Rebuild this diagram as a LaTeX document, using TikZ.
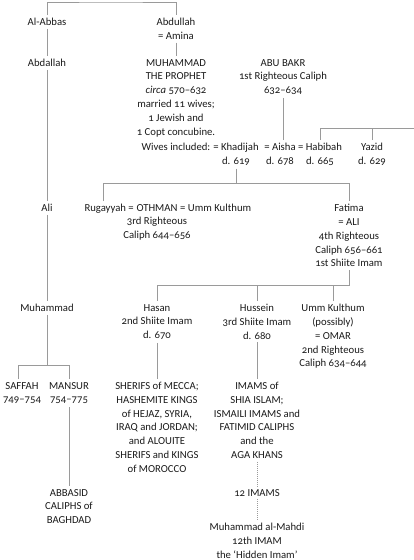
\documentclass[tikz,border=0pt]{standalone}
\usepackage{fontspec}
\setmainfont{Carlito}[Numbers=OldStyle]
\definecolor{ink}{HTML}{1A1A1A}
\definecolor{rulegray}{HTML}{9A9A9A}
\begin{document}
\begin{tikzpicture}[x=1pt,y=-1pt,
  lbl/.style={align=center, inner sep=3pt, anchor=north, font=\fontsize{10.7}{13.8}\selectfont, text=ink},
  link/.style={draw=rulegray, line width=0.8pt},
  dots/.style={draw=rulegray, line width=0.8pt, dash pattern=on 0.8pt off 1.2pt}]
\useasboundingbox (0,0) rectangle (414,560);
% nodes
\node[lbl] (alabbas)  at (47,15)  {Al-Abbas};
\node[lbl] (abdullah) at (176,15) {Abdullah\\= Amina};
\node[lbl] (abdallah) at (47,56)  {Abdallah};
\node[lbl] (muhammad) at (176,56) {MUHAMMAD\\THE PROPHET\\\textit{circa} 570–632\\married 11 wives;\\1 Jewish and\\1 Copt concubine.\\[1.5pt]Wives included:};
\node[lbl] (abubakr)  at (283,56) {ABU BAKR\\1st Righteous Caliph\\632–634};
\node[lbl] (khadijah) at (236,140) {= Khadijah\\d. 619};
\node[lbl] (aisha)    at (280,140) {= Aisha\\d. 678};
\node[lbl] (habibah)  at (320,140) {= Habibah\\d. 665};
\node[lbl] (yazid)    at (372,140) {Yazid\\d. 629};
\node[lbl] (ali)      at (47,201)  {Ali};
\node[lbl] (othman)   at (157,201) {OTHMAN\\3rd Righteous\\Caliph 644–656};
\node[lbl, anchor=north east] (rugayyah) at (137,201) {Rugayyah =};
\node[lbl, anchor=north west] (ummk)     at (177,201) {= Umm Kulthum};
\node[lbl] (fatima)   at (349,201) {Fatima\\= ALI\\4th Righteous\\Caliph 656–661\\1st Shiite Imam};
\node[lbl] (muhammadb) at (47,301) {Muhammad};
\node[lbl] (hasan)    at (157,301) {Hasan\\2nd Shiite Imam\\d. 670};
\node[lbl] (hussein)  at (257,301) {Hussein\\3rd Shiite Imam\\d. 680};
\node[lbl] (ummk2)    at (333,301) {Umm Kulthum\\(possibly)\\= OMAR\\2nd Righteous\\Caliph 634–644};
\node[lbl] (saffah)   at (22,379)  {SAFFAH\\749–754};
\node[lbl] (mansur)   at (69,379)  {MANSUR\\754–775};
\node[lbl] (sherifs)  at (157,379) {SHERIFS of MECCA;\\HASHEMITE KINGS\\of HEJAZ, SYRIA,\\IRAQ and JORDAN;\\and ALOUITE\\SHERIFS and KINGS\\of MOROCCO};
\node[lbl] (imams)    at (257,379) {IMAMS of\\SHIA ISLAM;\\ISMAILI IMAMS and\\FATIMID CALIPHS\\and the\\AGA KHANS};
\node[lbl] (abbasid)  at (69,486)  {ABBASID\\CALIPHS of\\BAGHDAD};
\node[lbl] (twelve)   at (257,486) {12 IMAMS};
\node[lbl] (mahdi)    at (257,520) {Muhammad al-Mahdi\\12th IMAM\\the ‘Hidden Imam’};
% helper coordinates
\coordinate (topbar) at (110,2);
\coordinate (ybar) at (414,128);
\coordinate (kL) at (103,183);
\coordinate (kR) at (349,183);
\coordinate (fL) at (157,285);
\coordinate (fR) at (349,285);
\coordinate (mL) at (18,365);
\coordinate (mR) at (69,365);
% connectors
\draw[link] (alabbas.north) |- (topbar) -| (abdullah.north);
\draw[link] (alabbas) -- (abdallah);
\draw[link] (abdallah) -- (ali);
\draw[link] (ali) -- (muhammadb);
\draw[link] (abdullah) -- (muhammad);
\draw[link] (abubakr.south) -- (abubakr.south |- aisha.north);
\draw[link] (habibah.north) |- (ybar);
\draw[link] (yazid.north) -- (yazid.north |- ybar);
\draw[link] (khadijah.south) -- (khadijah.south |- kL);
\draw[link] (kL |- rugayyah.north) -- (kL) -- (kR) -- (fatima.north);
\draw[link] (fatima.south) -- (fR) -- (fL) -- (hasan.north);
\draw[link] (hussein.north) -- (hussein.north |- fL);
\draw[link] (ummk2.north) -- (ummk2.north |- fL);
\draw[link] (muhammadb.south) -- (muhammadb.south |- mL);
\draw[link] (mL |- saffah.north) -- (mL) -- (mR) -- (mansur.north);
\draw[link] (mansur) -- (abbasid);
\draw[link] (hasan) -- (sherifs);
\draw[link] (hussein) -- (imams);
\draw[dots] (imams) -- (twelve);
\draw[dots] (twelve) -- (mahdi);
\end{tikzpicture}
\end{document}
